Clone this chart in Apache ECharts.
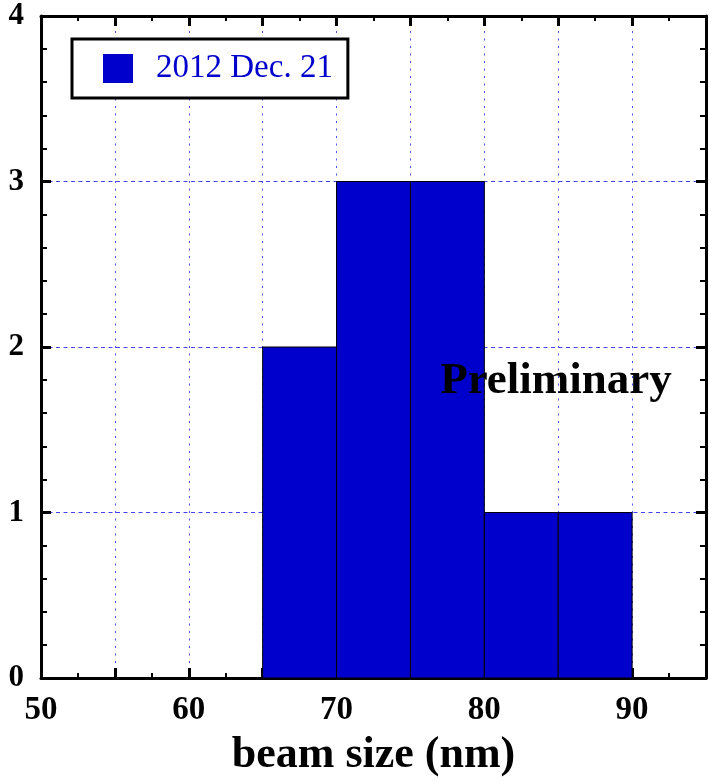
<!DOCTYPE html>
<html>
<head>
<meta charset="utf-8">
<script src="https://cdn.jsdelivr.net/npm/echarts@6/dist/echarts.min.js"></script>
<style>
  html, body { margin: 0; padding: 0; background: #fff; }
  #chart { width: 709px; height: 783px; }
</style>
</head>
<body>
<div id="chart"></div>
<script>
// Histogram bins (nm) and entries per bin
const binLow = [65, 70, 75, 80, 85];
const binHigh = [70, 75, 80, 85, 90];
const counts = [2, 3, 3, 1, 1];
const seriesName = '2012 Dec. 21';
const xTicks = [50, 60, 70, 80, 90];
const yTicks = [0, 1, 2, 3, 4];

const SERIF = '"Liberation Serif", "Times New Roman", "DejaVu Serif", serif';
const BAR = '#0000cc';

const histData = binLow.map((lo, i) => [lo, binHigh[i], counts[i]]);

const baseX = {
  type: 'value', min: 50, max: 95, interval: 5,
  axisLine: { show: true, onZero: false, lineStyle: { color: '#000', width: 3 } },
  axisTick: { show: true, inside: true, length: 10, lineStyle: { color: '#000', width: 3 } },
  minorTick: { show: true, splitNumber: 2, length: 5, lineStyle: { color: '#000', width: 2 } },
  splitLine: { show: false }
};
const baseY = {
  type: 'value', min: 0, max: 4, interval: 1,
  axisLine: { show: true, onZero: false, lineStyle: { color: '#000', width: 3 } },
  axisTick: { show: true, inside: true, length: 10, lineStyle: { color: '#000', width: 3 } },
  minorTick: { show: true, splitNumber: 5, length: 6, lineStyle: { color: '#000', width: 2 } },
  splitLine: { show: false }
};

const chart = echarts.init(document.getElementById('chart'), null, { renderer: 'canvas' });
chart.setOption({
  animation: false,
  backgroundColor: '#fff',
  grid: { left: 41, right: 0, top: 16, bottom: 99, containLabel: false },
  xAxis: [
    Object.assign({}, baseX, {
      position: 'bottom',
      name: 'beam size (nm)', nameLocation: 'middle', nameGap: 56,
      nameTextStyle: { fontFamily: SERIF, fontWeight: 'bold', fontSize: 44, color: '#000' },
      axisLabel: {
        show: true, margin: 16, fontFamily: SERIF, fontWeight: 'bold', fontSize: 33, color: '#000',
        formatter: v => (xTicks.indexOf(v) >= 0 ? String(v) : '')
      },
      splitLine: { show: true, lineStyle: { color: '#4d4df0', width: 1, type: [2, 5.5] } }
    }),
    Object.assign({}, baseX, { position: 'top', axisLabel: { show: false } })
  ],
  yAxis: [
    Object.assign({}, baseY, {
      position: 'left',
      axisLabel: {
        show: true, margin: 17, fontFamily: SERIF, fontWeight: 'bold', fontSize: 31, color: '#000',
        formatter: v => (yTicks.indexOf(v) >= 0 ? String(v) : '')
      },
      splitLine: { show: true, lineStyle: { color: '#4444f4', width: 1, type: [4, 3.5] } }
    }),
    Object.assign({}, baseY, { position: 'right', axisLabel: { show: false } })
  ],
  legend: {
    show: true, left: 72, top: 39, orient: 'vertical',
    backgroundColor: '#fff', borderColor: '#000', borderWidth: 3,
    padding: [13, 15, 13, 31],
    itemWidth: 30, itemHeight: 29, icon: 'rect',
    textStyle: { fontFamily: SERIF, fontSize: 33, color: BAR, padding: [0, 0, 0, 18] },
    data: [seriesName]
  },
  graphic: [{
    type: 'text', x: 556, y: 381, z: 100,
    style: {
      text: 'Preliminary', fontFamily: SERIF, fontWeight: 'bold', fontSize: 45,
      fill: '#000', align: 'center', verticalAlign: 'middle'
    }
  }],
  series: [{
    name: seriesName,
    type: 'custom',
    xAxisIndex: 0, yAxisIndex: 0,
    itemStyle: { color: BAR },
    data: histData,
    encode: { x: [0, 1], y: 2 },
    renderItem: function (params, api) {
      const p0 = api.coord([api.value(0), 0]);
      const p1 = api.coord([api.value(1), api.value(2)]);
      return {
        type: 'rect',
        shape: { x: p0[0], y: p1[1], width: p1[0] - p0[0], height: p0[1] - p1[1] },
        style: { fill: BAR, stroke: '#000', lineWidth: 1 }
      };
    }
  }]
});
</script>
</body>
</html>
